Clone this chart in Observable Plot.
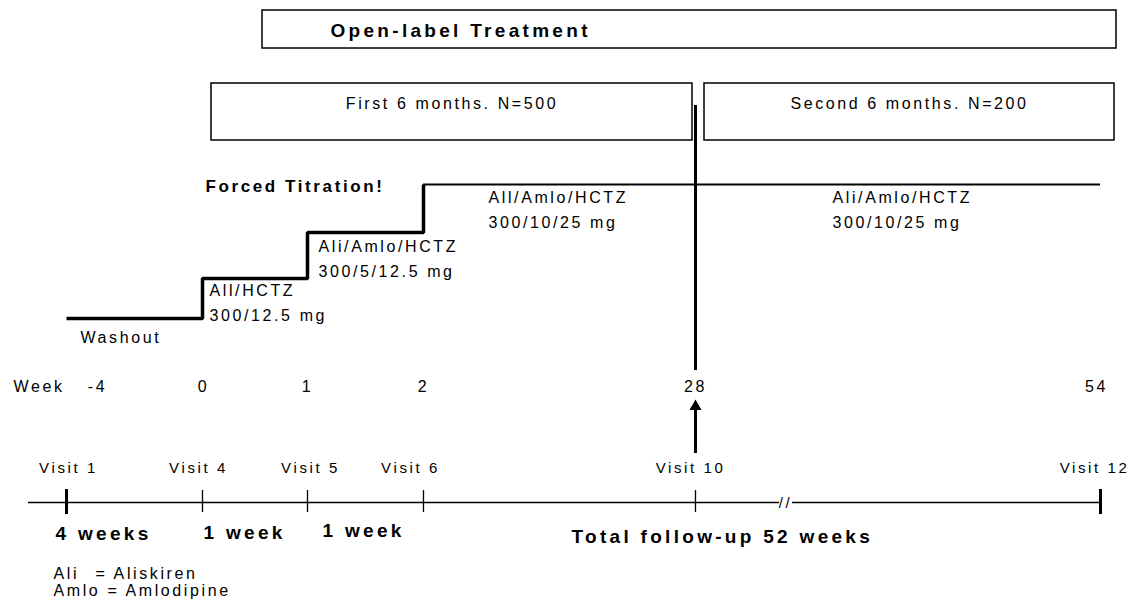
<!DOCTYPE html>
<html>
<head>
<meta charset="utf-8">
<script src="https://cdn.jsdelivr.net/npm/d3@7"></script>
<script src="https://cdn.jsdelivr.net/npm/@observablehq/plot@0.6"></script>
<style>
  html, body { margin: 0; padding: 0; background: #fff; }
  #chart svg { display: block; }
</style>
</head>
<body>
<div id="chart"></div>
<script>
// ---------------- DATA ----------------
const weeks = [-4, 0, 1, 2, 28, 54];
const weekLabels = ["-4", "0", "1", "2", "28", "54"];
const visitLabels = ["Visit 1", "Visit 4", "Visit 5", "Visit 6", "Visit 10", "Visit 12"];

const stepWeeks = [-4, 0, 1, 2];
const doseStage = [0, 1, 2, 3];

const doseNames = ["Washout", "All/HCTZ", "Ali/Amlo/HCTZ", "All/Amlo/HCTZ", "Ali/Amlo/HCTZ"];
const doseStrengths = ["", "300/12.5 mg", "300/5/12.5 mg", "300/10/25 mg", "300/10/25 mg"];
const doseStartWeek = [-4, 0, 1, 2, 28];

const periodNames = ["First 6 months. N=500", "Second 6 months. N=200"];
const periodStart = [0, 28];
const periodEnd = [28, 54];

const intervalLabels = ["4 weeks", "1 week", "1 week", "Total follow-up 52 weeks"];
const intervalStart = [-4, 0, 1, 28];

const abbrevs = ["Ali", "Amlo"];
const abbrevMeanings = ["Aliskiren", "Amlodipine"];

const headerTitle = "Open-label Treatment";
const titrationTitle = "Forced Titration!";
const weekWord = "Week";

// ---------------- LAYOUT ----------------
const L = {
  weekPx: [66, 202, 307, 423, 695, 1100],
  stageRow: [318, 278, 232, 184],
  header: {y1: 10, y2: 48, insetL: 60, insetR: -16, textDx: 128, textY: 30},
  period: {y1: 83, y2: 140, insetL: [9, 9], insetR: [3, -14], textY: 103},
  divider: {y1: 105, y2: 370},
  doseDx: [14, 7, 11, 65, 137],
  doseY: [325, 278, 234, 185, 185],
  weekRow: 386,
  weekDx: [31, 1, 0, 0, 0, -4],
  arrow: {y1: 453, y2: 410, head: 406},
  visitRow: 468,
  visitDx: [2, -4, 3, -13, -5, -6],
  axisY: 502,
  intervalDx: [-11, 1, 15, -124],
  intervalY: [533, 532, 530, 536],
  legendY: [573, 590]
};

const FONT = "'Liberation Sans', Arial, Helvetica, sans-serif";

const label = (txt, week, dx, y, o = {}) =>
  Plot.text([txt], {x: () => week, y: () => y, text: d => d, dx, textAnchor: "start",
    lineAnchor: "middle", fontSize: 16, fill: "#000", ...o});

const marks = [];

// Header box
marks.push(Plot.rect([0], {x1: () => 0, x2: () => 54, y1: () => L.header.y1, y2: () => L.header.y2,
  insetLeft: L.header.insetL, insetRight: L.header.insetR, fill: "#fff", stroke: "#000", strokeWidth: 1.5}));
marks.push(label(headerTitle, 0, L.header.textDx, L.header.textY, {fontWeight: "bold", fontSize: 19}));

// Period boxes
periodNames.forEach((name, i) => {
  marks.push(Plot.rect([i], {x1: () => periodStart[i], x2: () => periodEnd[i],
    y1: () => L.period.y1, y2: () => L.period.y2,
    insetLeft: L.period.insetL[i], insetRight: L.period.insetR[i],
    fill: "#fff", stroke: "#000", strokeWidth: 1.5}));
});
const p0 = [L.weekPx[1] + L.period.insetL[0], L.weekPx[4] - L.period.insetR[0]];
const p1 = [L.weekPx[4] + L.period.insetL[1], L.weekPx[5] - L.period.insetR[1]];
marks.push(label(periodNames[0], periodStart[0], (p0[0] + p0[1]) / 2 - L.weekPx[1], L.period.textY, {textAnchor: "middle"}));
marks.push(label(periodNames[1], periodStart[1], (p1[0] + p1[1]) / 2 - L.weekPx[4], L.period.textY, {textAnchor: "middle"}));

// Divider at week 28
marks.push(Plot.ruleX([28], {y1: L.divider.y1, y2: L.divider.y2, stroke: "#000", strokeWidth: 3}));

// Titration step line
const stepData = stepWeeks.map((w, i) => ({week: w, stage: doseStage[i]}));
marks.push(Plot.line(stepData, {x: "week", y: d => L.stageRow[d.stage], curve: "step-after",
  stroke: "#000", strokeWidth: 3.5, strokeLinejoin: "miter", strokeLinecap: "butt"}));
marks.push(Plot.ruleY([L.stageRow[3]], {x1: 2, x2: 54, stroke: "#000", strokeWidth: 2}));

marks.push(label(titrationTitle, 0, 3, 186, {fontWeight: 700, fontSize: 17}));

// Dose labels
doseNames.forEach((name, i) => {
  const txt = doseStrengths[i] ? name + "\n" + doseStrengths[i] : name;
  marks.push(Plot.text([txt], {x: () => doseStartWeek[i], y: () => L.doseY[i], text: d => d,
    dx: L.doseDx[i], textAnchor: "start", lineAnchor: "top", lineHeight: 1.55, fontSize: 16, fill: "#000"}));
});

// Week row
marks.push(label(weekWord, -4, -53, L.weekRow));
weeks.forEach((w, i) => {
  marks.push(label(weekLabels[i], w, L.weekDx[i], L.weekRow, {textAnchor: "middle"}));
});

// Arrow to week 28
marks.push(Plot.ruleX([28], {y1: L.arrow.y1, y2: L.arrow.y2, stroke: "#000", strokeWidth: 3}));
marks.push(Plot.dot([28], {x: d => d, y: () => L.arrow.head, symbol: "triangle", r: 4.5, fill: "#000", stroke: "none"}));

// Visits
weeks.forEach((w, i) => {
  marks.push(label(visitLabels[i], w, L.visitDx[i], L.visitRow, {textAnchor: "middle", fontSize: 15}));
});

// Timeline axis with a break
marks.push(Plot.ruleY([L.axisY], {x1: -4, x2: 28, insetLeft: -38, insetRight: -84, stroke: "#000", strokeWidth: 1.5}));
marks.push(Plot.ruleY([L.axisY], {x1: 28, x2: 54, insetLeft: 97, stroke: "#000", strokeWidth: 1.5}));
marks.push(Plot.text(["//"], {x: () => 28, y: () => L.axisY, text: d => d, dx: 90, dy: 1,
  fontSize: 15, fill: "#000", textAnchor: "middle", lineAnchor: "middle"}));
weeks.forEach((w, i) => {
  const end = i === 0 || i === weeks.length - 1;
  marks.push(Plot.ruleX([w], {y1: L.axisY - (end ? 13 : 12), y2: L.axisY + (end ? 12 : 10),
    stroke: "#000", strokeWidth: end ? 3 : 1.3}));
});

// Interval labels
intervalLabels.forEach((t, i) => {
  marks.push(label(t, intervalStart[i], L.intervalDx[i], L.intervalY[i], {fontWeight: "bold", fontSize: 19}));
});

// Abbreviation legend
marks.push(label(abbrevs[0], -4, -13, L.legendY[0]));
marks.push(label("= " + abbrevMeanings[0], -4, 29, L.legendY[0]));
marks.push(label(abbrevs[1] + " = " + abbrevMeanings[1], -4, -13, L.legendY[1]));

const chart = Plot.plot({
  width: 1138,
  height: 601,
  margin: 0,
  x: {type: "linear", domain: weeks, range: L.weekPx, axis: null},
  y: {type: "linear", domain: [0, 601], range: [0, 601], axis: null},
  style: {fontFamily: FONT, background: "#fff", color: "#000", letterSpacing: "2.6px"},
  marks
});
// wider tracking for the large bold headings
d3.select(chart).selectAll("[font-weight='bold']").attr("letter-spacing", "3.3px");
d3.select(chart).selectAll("[font-size='15'][text-anchor='middle']").filter(function () {
  return d3.select(this).text() === "//";
}).attr("letter-spacing", "1px");
document.getElementById("chart").appendChild(chart);
</script>
</body>
</html>
